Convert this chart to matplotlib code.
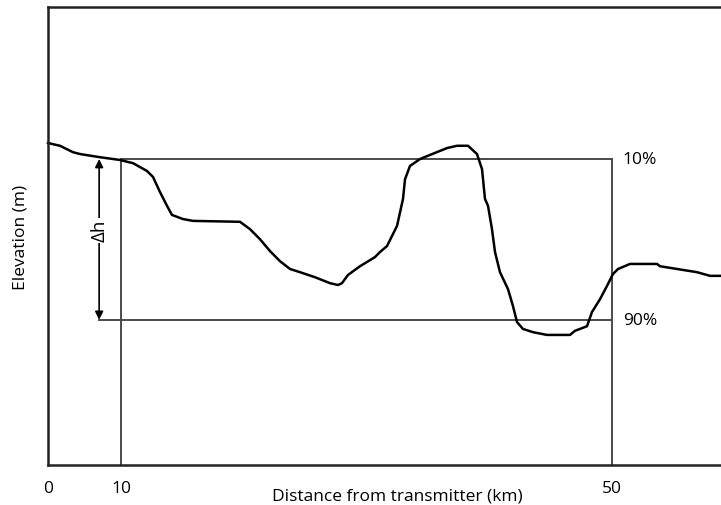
import matplotlib.pyplot as plt

plt.rcParams['font.family'] = ['Open Sans', 'DejaVu Sans']

# terrain profile, x in % of plot width, y in % of plot height
profile_x = [0.0, 1.78, 3.71, 4.75, 7.73, 10.70, 12.63, 14.71, 15.60, 16.64,
             17.68, 18.42, 20.06, 21.55, 28.53, 30.01, 31.50, 32.99, 34.47,
             35.96, 37.44, 39.67, 41.90, 43.09, 43.68, 44.58, 46.36, 48.59,
             49.33, 50.37, 51.86, 52.75, 53.05, 53.79, 55.27, 56.76, 59.29,
             60.77, 62.41, 63.74, 64.49, 64.93, 65.38, 65.97, 66.42, 67.16,
             68.35, 69.09, 69.69, 70.58, 72.07, 74.15, 77.56, 78.31, 80.09,
             80.83, 82.02, 83.06, 83.95, 84.70, 86.48, 90.49, 90.94, 93.46,
             96.43, 98.37, 100.0]
profile_y = [70.3, 69.7, 68.3, 67.9, 67.2, 66.6, 65.9, 64.2, 62.9, 59.6,
             56.6, 54.6, 53.7, 53.3, 53.1, 51.5, 49.3, 46.7, 44.5,
             42.8, 42.1, 41.0, 39.7, 39.3, 39.7, 41.5, 43.4, 45.4,
             46.5, 47.8, 52.2, 58.1, 62.4, 65.3, 66.8, 67.7, 69.2,
             69.7, 69.7, 67.9, 64.6, 58.1, 56.6, 51.5, 46.5, 42.1,
             38.4, 34.7, 31.2, 29.7, 29.0, 28.4, 28.4, 29.3, 30.3,
             33.4, 36.2, 39.1, 41.7, 42.8, 43.9, 43.9, 43.4, 42.8,
             42.1, 41.3, 41.3]

# percentile levels and distance marks
level_10 = 66.8
level_90 = 31.7
x_10km = 10.85
x_50km = 83.8
x_dh = 7.6
tick_pos = [0, x_10km, x_50km]
tick_labels = ['0', '10', '50']

fig = plt.figure(figsize=(7.21, 5.06), dpi=100)
ax = fig.add_axes([48 / 721, 40 / 506, 673 / 721, 458 / 506])
ax.set_xlim(0, 100)
ax.set_ylim(0, 100)

line_kw = dict(color='#4a4a4a', lw=1.4, clip_on=False)
ax.plot([x_10km, x_50km], [level_10, level_10], **line_kw)
ax.plot([x_dh, x_50km], [level_90, level_90], **line_kw)
ax.plot([x_10km, x_10km], [0, level_10], **line_kw)
ax.plot([x_50km, x_50km], [0, level_10], **line_kw)

ax.plot(profile_x, profile_y, color='black', lw=1.8, clip_on=False,
        solid_joinstyle='round')

# delta-h arrow with label
ax.annotate('', xy=(x_dh, level_10), xytext=(x_dh, level_90),
            arrowprops=dict(arrowstyle='<|-|>', color='black', lw=1.2,
                            mutation_scale=12, shrinkA=0, shrinkB=0))
ax.text(x_dh, (level_10 + level_90) / 2 + 2, 'Δh', rotation=90,
        ha='center', va='center', fontsize=13.5,
        bbox=dict(facecolor='white', edgecolor='none', pad=1))

ax.text(x_50km + 1.6, level_10, '10%', ha='left', va='center', fontsize=12.5)
ax.text(x_50km + 1.6, level_90, '90%', ha='left', va='center', fontsize=12.5)

for side in ['left', 'top', 'bottom']:
    ax.spines[side].set_linewidth(1.8)
    ax.spines[side].set_color('#222222')
ax.spines['right'].set_visible(False)

ax.set_yticks([])
ax.set_xticks(tick_pos)
ax.set_xticklabels(tick_labels, fontsize=12.5)
ax.tick_params(axis='x', length=0, pad=11)
ax.set_xlabel('Distance from transmitter (km)', fontsize=12.5, labelpad=-6)
ax.xaxis.label.set_x(0.519)
ax.set_ylabel('Elevation (m)', fontsize=12.5, labelpad=14)

fig.savefig('out.png', dpi=100)
